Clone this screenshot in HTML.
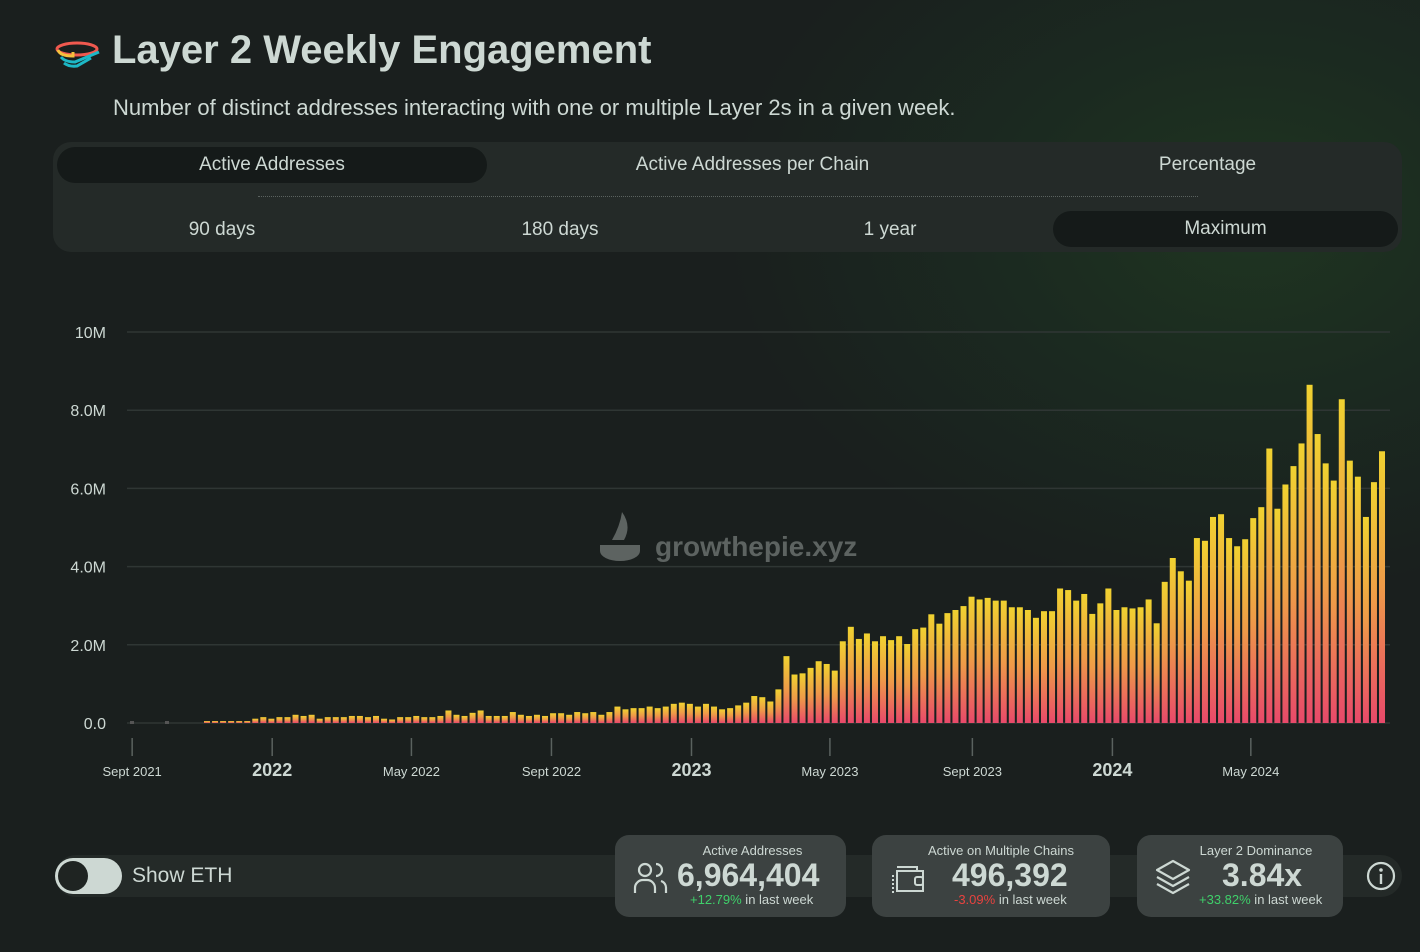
<!DOCTYPE html>
<html><head><meta charset="utf-8">
<style>
html,body{margin:0;padding:0}
body{width:1420px;height:952px;overflow:hidden;position:relative;font-family:"Liberation Sans",sans-serif;
background:radial-gradient(ellipse 700px 500px at 1250px 220px,#1f3521 0%,#1b2a20 35%,#1a1f1e 75%),#1a1e1e;color:#cdd8d3}
.abs{position:absolute}
.tab{position:absolute;font-size:19px;color:#cdd8d3;text-align:center;line-height:36px;border-radius:18px}
.card{position:absolute;top:835px;height:82px;background:#3c4241;border-radius:14px;color:#cdd8d3;text-align:center}
.card .t{position:absolute;top:8px;font-size:13px;width:100%}
.card .v{position:absolute;top:22px;font-size:32px;font-weight:bold}
.card .c{position:absolute;top:57px;font-size:13px}
</style></head><body>
<svg class="abs" style="left:55px;top:40px" width="46" height="28" viewBox="0 0 46 28">
<ellipse cx="22" cy="9" rx="20" ry="6" fill="none" stroke="#f0594f" stroke-width="3"/>
<path d="M3 10 Q5 16 18 16 L18 12" fill="none" stroke="#f5c13d" stroke-width="3"/>
<path d="M6 17 Q10 22 20 22 L44 12" fill="none" stroke="#1db8c6" stroke-width="3"/>
<path d="M9 23 Q14 27 22 26 L36 18" fill="none" stroke="#1db8c6" stroke-width="3"/>
</svg>
<div class="abs" style="left:112px;top:28px;font-size:40px;font-weight:bold;color:#cdd8d3">Layer 2 Weekly Engagement</div>
<div class="abs" style="left:113px;top:95px;font-size:22px;color:#cdd8d3">Number of distinct addresses interacting with one or multiple Layer 2s in a given week.</div>

<div class="abs" style="left:53px;top:142px;width:1349px;height:110px;background:#242a28;border-radius:18px"></div>
<div class="tab" style="left:57px;top:147px;width:430px;background:#151a19">Active Addresses</div>
<div class="tab" style="left:520px;top:147px;width:465px">Active Addresses per Chain</div>
<div class="tab" style="left:1020px;top:147px;width:375px">Percentage</div>
<div class="abs" style="left:258px;top:196px;width:940px;border-top:1px dotted #5a625f"></div>
<div class="tab" style="left:57px;top:212px;width:330px">90 days</div>
<div class="tab" style="left:395px;top:212px;width:330px">180 days</div>
<div class="tab" style="left:725px;top:212px;width:330px">1 year</div>
<div class="tab" style="left:1053px;top:211px;width:345px;background:#151a19">Maximum</div>

<svg id="chart" class="abs" style="left:0;top:0" width="1420" height="800"></svg>

<div class="abs" style="left:55px;top:855px;width:1347px;height:42px;background:#242a28;border-radius:21px"></div>
<div class="abs" style="left:55px;top:858px;width:67px;height:36px;background:#cdd8d3;border-radius:18px">
<div style="position:absolute;left:3px;top:3px;width:30px;height:30px;border-radius:15px;background:#1f2422"></div></div>
<div class="abs" style="left:132px;top:864px;font-size:21px">Show ETH</div>

<div class="card" style="left:615px;width:231px">
<div class="t" style="left:22px;width:231px">Active Addresses</div>
<svg style="position:absolute;left:18px;top:26px" width="36" height="34" viewBox="0 0 36 34" fill="none" stroke="#cdd8d3" stroke-width="2.2"><circle cx="12" cy="9" r="6"/><path d="M2 32 v-5 a8 8 0 0 1 8-8 h4 a8 8 0 0 1 8 8 v5"/><path d="M23 3 a6 6 0 0 1 0 12 M28 20 a7 7 0 0 1 5 7 v5"/></svg>
<div class="v" style="left:62px">6,964,404</div>
<div class="c" style="left:75px"><span style="color:#3fcf6a">+12.79%</span> in last week</div></div>
<div class="card" style="left:872px;width:238px">
<div class="t" style="width:238px;left:10px">Active on Multiple Chains</div>
<svg style="position:absolute;left:17px;top:28px" width="38" height="34" viewBox="0 0 38 34" fill="none" stroke="#cdd8d3" stroke-width="2"><path d="M8 4 h20 v4 M8 8 h26 v20 h-26 z"/><rect x="26" y="14" width="8" height="8" rx="2"/><path d="M4 12 v18 M8 14 v16" stroke-dasharray="2 2"/></svg>
<div class="v" style="left:80px">496,392</div>
<div class="c" style="left:82px"><span style="color:#e8423f">-3.09%</span> in last week</div></div>
<div class="card" style="left:1137px;width:206px">
<div class="t" style="left:16px">Layer 2 Dominance</div>
<svg style="position:absolute;left:16px;top:22px" width="40" height="40" viewBox="0 0 40 40" fill="none" stroke="#cdd8d3" stroke-width="2.2" stroke-linejoin="round"><path d="M20 4 L36 13 L20 22 L4 13 Z"/><path d="M4 20 L20 29 L36 20"/><path d="M4 27 L20 36 L36 27"/></svg>
<div class="v" style="left:85px">3.84x</div>
<div class="c" style="left:62px"><span style="color:#3fcf6a">+33.82%</span> in last week</div></div>
<svg class="abs" style="left:1365px;top:860px" width="32" height="32"><circle cx="16" cy="16" r="13" fill="none" stroke="#cdd8d3" stroke-width="2.2"/><circle cx="16" cy="10" r="1.8" fill="#cdd8d3"/><rect x="14.8" y="14" width="2.4" height="10" fill="#cdd8d3"/></svg>

<script>
const values=[0.05,0.05,0.05,0.05,0.05,0.05,0.11,0.15,0.11,0.15,0.15,0.21,0.18,0.21,0.11,0.15,0.15,0.15,0.18,0.18,0.15,0.18,0.11,0.09,0.15,0.15,0.18,0.15,0.15,0.18,0.32,0.21,0.18,0.26,0.32,0.18,0.18,0.18,0.28,0.21,0.18,0.21,
0.18,0.25,0.25,0.21,0.28,0.25,0.28,0.21,0.28,0.42,0.35,0.38,0.38,0.42,0.38,0.42,0.49,0.52,0.49,0.42,0.49,0.42,0.35,0.38,0.45,0.52,0.69,0.66,0.55,0.86,1.71,1.24,1.27,1.41,1.58,1.51,1.34,2.09,2.46,2.15,2.29,2.09,2.22,2.12,2.22,2.02,2.40,2.44,2.78,2.54,2.81,
2.89,2.99,3.23,3.16,3.20,3.13,3.13,2.96,2.96,2.89,2.69,2.86,2.86,3.44,3.40,3.13,3.30,2.79,3.06,3.44,2.89,2.96,2.93,2.96,3.16,2.55,3.61,4.22,3.88,3.64,4.73,4.66,5.27,5.34,4.73,4.52,4.70,5.24,5.52,7.02,5.48,6.10,6.57,7.15,8.65,7.39,6.64,6.20,8.28,6.71,6.30,5.27,6.16,6.95];
const yTicks=[0,2,4,6,8,10];
const yTickLabels=["0.0","2.0M","4.0M","6.0M","8.0M","10M"];
const xTickWeeks=[-9.3,8.1,25.4,42.8,60.2,77.4,95.1,112.5,129.7];
const xTickLabels=["Sept 2021","2022","May 2022","Sept 2022","2023","May 2023","Sept 2023","2024","May 2024"];
const xTickBold=[false,true,false,false,true,false,false,true,false];

const NS="http://www.w3.org/2000/svg";
const svg=document.getElementById('chart');
const y0=723,pxPerM=39.1,x0=207,pitch=8.048,barW=6;
const yScale=v=>y0-v*pxPerM;
const xScale=i=>x0+i*pitch;
function mk(t,a){const e=document.createElementNS(NS,t);for(const k in a)e.setAttribute(k,a[k]);svg.appendChild(e);return e;}
const defs=mk('defs',{});
defs.innerHTML='<linearGradient id="bg" x1="0" y1="1" x2="0" y2="0"><stop offset="0" stop-color="#e8496a"/><stop offset="0.5" stop-color="#ee9a48"/><stop offset="1" stop-color="#f0d230"/></linearGradient>';
yTicks.forEach((t,k)=>{
  const g=mk('line',{x1:127,x2:1390,y1:yScale(t),y2:yScale(t),stroke:'#2f3634','stroke-width':1.5});
  
  
  const l=mk('text',{x:106,y:yScale(t)+6,'text-anchor':'end','font-size':16,fill:'#cdd8d3','font-family':'Liberation Sans, sans-serif'});
  l.textContent=yTickLabels[k];
  
  
});
const wm=mk('text',{x:655,y:556,'font-size':28,'font-weight':'bold',fill:'#5d6361','font-family':'Liberation Sans, sans-serif'});
wm.textContent='growthepie.xyz';


mk('path',{d:'M600 545 h40 v6 a20 10 0 0 1 -40 0 z M612 540 q8 -14 10 -28 q10 14 2 28 z',fill:'#5d6361'});
mk('rect',{x:130,y:721,width:4,height:3,fill:'#555'});
mk('rect',{x:165,y:721,width:4,height:3,fill:'#555'});
values.forEach((v,i)=>{
  const r=mk('rect',{x:xScale(i)-barW/2,y:yScale(v),width:barW,height:Math.max(0.5,v*pxPerM),fill:'url(#bg)'});
  
  
});
xTickWeeks.forEach((w,k)=>{
  const x=xScale(w);
  const tk=mk('line',{x1:x,x2:x,y1:738,y2:756,stroke:'#5a625f','stroke-width':1.5});
  
  
  const b=xTickBold[k];
  const l=mk('text',{x:x,y:776,'text-anchor':'middle','font-size':b?18:13,'font-weight':b?'bold':'normal',fill:'#cdd8d3','font-family':'Liberation Sans, sans-serif'});
  l.textContent=xTickLabels[k];
  
  
});
</script>
</body></html>
